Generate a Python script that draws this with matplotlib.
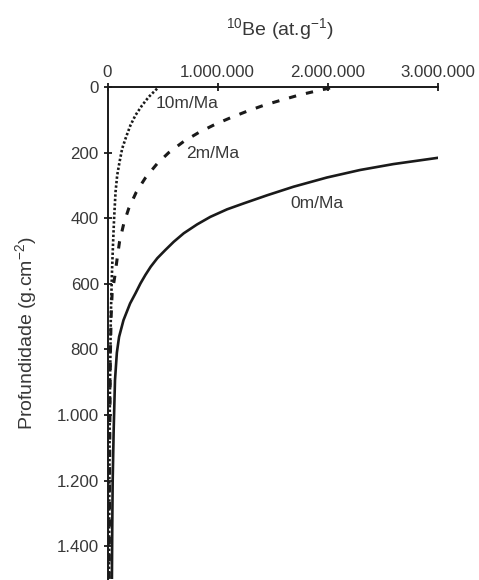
import matplotlib
matplotlib.use("Agg")
import matplotlib.pyplot as plt
from matplotlib.ticker import FixedLocator, FuncFormatter

plt.rcParams['font.family'] = ['Liberation Sans', 'DejaVu Sans']
plt.rcParams['mathtext.fontset'] = 'custom'
plt.rcParams['mathtext.rm'] = 'Liberation Sans'
plt.rcParams['mathtext.it'] = 'Liberation Sans:italic'
plt.rcParams['mathtext.bf'] = 'Liberation Sans:bold'

# ---- data (concentration in at/g, depth in g/cm2) ----
depth_0 = [215, 235, 253, 276, 304, 330, 355, 373, 396, 419, 446, 472, 497, 522, 548,
           573, 599, 629, 660, 711, 762, 810, 894, 1046, 1200, 1350, 1500]
conc_0 = [3.018e6, 2.595e6, 2.293e6, 1.991e6, 1.689e6, 1.45e6, 1.235e6, 1.085e6,
          0.933e6, 0.813e6, 0.692e6, 0.601e6, 0.525e6, 0.452e6, 0.392e6, 0.344e6,
          0.299e6, 0.254e6, 0.205e6, 0.145e6, 0.105e6, 0.085e6, 0.068e6, 0.056e6,
          0.047e6, 0.043e6, 0.040e6]

depth_2 = [3, 13, 25, 41, 56, 74, 94, 115, 139, 166, 200, 234, 277, 320, 370, 416,
           472, 522, 578, 629, 700, 800, 1000, 1200, 1500]
conc_2 = [2.02e6, 1.885e6, 1.734e6, 1.568e6, 1.417e6, 1.266e6, 1.115e6, 0.97e6,
          0.827e6, 0.692e6, 0.556e6, 0.450e6, 0.344e6, 0.262e6, 0.193e6, 0.148e6,
          0.109e6, 0.088e6, 0.066e6, 0.042e6, 0.033e6, 0.027e6, 0.022e6, 0.019e6,
          0.016e6]

depth_10 = [5, 30, 56, 86, 117, 152, 188, 229, 269, 320, 400, 480, 570, 700, 1000,
            1200, 1500]
conc_10 = [0.450e6, 0.375e6, 0.314e6, 0.254e6, 0.208e6, 0.169e6, 0.133e6, 0.109e6,
           0.088e6, 0.073e6, 0.060e6, 0.050e6, 0.040e6, 0.030e6, 0.020e6, 0.017e6,
           0.014e6]

curve_labels = ["0m/Ma", "2m/Ma", "10m/Ma"]
x_ticks = [0, 1_000_000, 2_000_000, 3_000_000]
y_ticks = [0, 200, 400, 600, 800, 1000, 1200, 1400]

def fmt_thousands(v, pos=None):
    return f"{int(round(v)):,}".replace(",", ".")

fig = plt.figure(figsize=(4.79, 5.80), dpi=100)
ax = fig.add_axes([107.5/479, 1 - 579/580, 330.5/479, 492/580])

ink = "#1a1a1a"
txt = "#383838"

ax.plot(conc_0, depth_0, color=ink, lw=1.9, solid_capstyle='round',
        solid_joinstyle='round')
ax.plot(conc_2, depth_2, color=ink, lw=2.2, linestyle=(0, (2.4, 3.3)))
ax.plot(conc_10, depth_10, color=ink, lw=1.9, linestyle=(0, (0.9, 0.8)))

ax.set_xlim(0, 3_000_000)
ax.set_ylim(1500, 0)

for s in ['right', 'bottom']:
    ax.spines[s].set_visible(False)
for s in ['top', 'left']:
    ax.spines[s].set_linewidth(1.4)
    ax.spines[s].set_color(ink)

ax.xaxis.tick_top()
ax.xaxis.set_label_position('top')
ax.xaxis.set_major_locator(FixedLocator(x_ticks))
ax.yaxis.set_major_locator(FixedLocator(y_ticks))
ax.xaxis.set_major_formatter(FuncFormatter(fmt_thousands))
ax.yaxis.set_major_formatter(FuncFormatter(fmt_thousands))
ax.tick_params(axis='both', direction='inout', length=5.5, width=1.3, color=ink,
               labelsize=12.2, labelcolor=txt)
ax.tick_params(axis='x', pad=2.5)
ax.tick_params(axis='y', pad=3.5)

ax.set_xlabel("$^{10}$Be (at.g$^{-1}$)", fontsize=14, color=txt, labelpad=15)
ax.xaxis.set_label_coords(0.52, 1.105)
ax.set_ylabel("Profundidade (g.cm$^{-2}$)", fontsize=14, color=txt, labelpad=13)

ax.text(1.66e6, 355, curve_labels[0], fontsize=12.5, color=txt, va='center', ha='left')
ax.text(0.71e6, 202, curve_labels[1], fontsize=12.5, color=txt, va='center', ha='left')
ax.text(0.435e6, 50, curve_labels[2], fontsize=12.5, color=txt, va='center', ha='left')

fig.savefig("out.png", dpi=100)
